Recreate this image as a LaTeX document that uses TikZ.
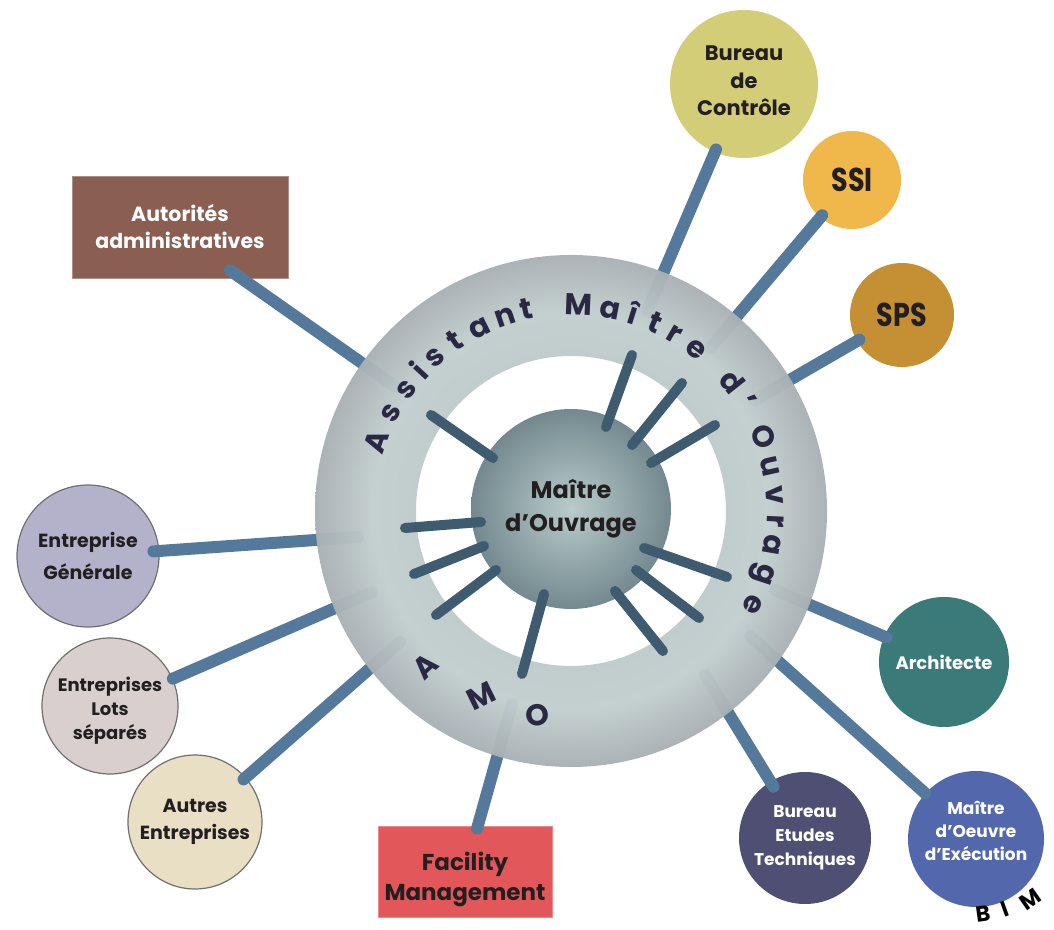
\documentclass[tikz,border=0pt]{standalone}
\usepackage{fontspec}
\setmainfont{Poppins}
\usetikzlibrary{calc}
\definecolor{connblue}{HTML}{54799A}
\definecolor{spokeblue}{HTML}{3F5B70}
\definecolor{textdark}{HTML}{231F20}
\definecolor{ringtext}{HTML}{2A2943}
\definecolor{ringA}{HTML}{BFCACA}
\definecolor{ringB}{HTML}{C2CDCD}
\definecolor{ringC}{HTML}{A8B1B4}
\definecolor{sphL}{HTML}{B9CCCB}
\definecolor{sphD}{HTML}{74898F}
\definecolor{bcfill}{HTML}{D3CD77}
\definecolor{ssifill}{HTML}{F0B74A}
\definecolor{spsfill}{HTML}{C59034}
\definecolor{autfill}{HTML}{8B5E52}
\definecolor{egfill}{HTML}{B3B2CA}
\definecolor{elsfill}{HTML}{D9CFCF}
\definecolor{aefill}{HTML}{E9DFC5}
\definecolor{fmfill}{HTML}{E2575A}
\definecolor{betfill}{HTML}{4E4F72}
\definecolor{moefill}{HTML}{5367AD}
\definecolor{archfill}{HTML}{3A7A78}
\definecolor{bordergray}{HTML}{707070}
\pgfdeclareradialshading{ringshade}{\pgfpoint{0bp}{0bp}}{color(0bp)=(ringA); color(15bp)=(ringA); color(19.5bp)=(ringB); color(25bp)=(ringC); color(50bp)=(ringC)}
\newcommand\mylines[2]{\raisebox{#1}[\height][\depth]{\begin{tabular}{@{}c@{}}#2\end{tabular}}}
\begin{document}
\begin{tikzpicture}[x=1pt,y=1pt,
  bubble/.style={circle, inner sep=0pt, align=center},
  boxnode/.style={rectangle, inner sep=0pt, align=center},
  conn/.style={line width=12pt, line cap=round, draw=connblue},
  spoke/.style={line width=10pt, line cap=round, draw=spokeblue},
  ringletter/.style={text=ringtext, font=\bfseries\fontsize{30}{30}\selectfont, inner sep=-2pt},
  biml/.style={text=black, font=\bfseries\fontsize{22}{22}\selectfont, inner sep=0pt}]
\useasboundingbox (0,0) rectangle (1054,929);
\coordinate (C) at (571,418);

% outer nodes
\node[bubble, fill=bcfill, minimum size=148pt, text=textdark, font=\bfseries\fontsize{21}{27.5}\selectfont] (BC) at (744,845) {\mylines{1pt}{Bureau\\de\\Contrôle}};
\node[bubble, fill=ssifill, minimum size=98pt, text=textdark, font=\bfseries\fontsize{33}{33}\selectfont] (SSI) at (852,749) {\scalebox{0.82}[1]{SSI}};
\node[bubble, fill=spsfill, minimum size=104pt, text=textdark, font=\bfseries\fontsize{33}{33}\selectfont] (SPS) at (902,614) {\scalebox{0.82}[1]{SPS}};
\node[boxnode, fill=autfill, draw=autfill!70!white, line width=0.8pt, minimum width=216pt, minimum height=102pt, text=white, font=\bfseries\fontsize{20.5}{27}\selectfont] (AUT) at (180,702) {Autorités\\administratives};
\node[bubble, fill=egfill, draw=bordergray, line width=1.2pt, minimum size=142pt, text=textdark, font=\bfseries\fontsize{19}{32}\selectfont] (EG) at (88,373) {Entreprise\\Générale};
\node[bubble, fill=elsfill, draw=bordergray, line width=1.2pt, minimum size=136pt, text=textdark, font=\bfseries\fontsize{18}{24}\selectfont] (ELS) at (110,223) {\mylines{-5pt}{Entreprises\\Lots\\séparés}};
\node[bubble, fill=aefill, draw=bordergray, line width=1.2pt, minimum size=134pt, text=textdark, font=\bfseries\fontsize{19}{27}\selectfont] (AE) at (195,107) {Autres\\Entreprises};
\node[boxnode, fill=fmfill, draw=fmfill!70!white, line width=0.8pt, minimum width=174pt, minimum height=91pt, text=textdark, font=\bfseries\fontsize{23}{30}\selectfont] (FM) at (465,57.5) {\mylines{-8pt}{Facility\\Management}};
\node[bubble, fill=betfill, minimum size=132pt, text=white, font=\bfseries\fontsize{17}{24}\selectfont] (BET) at (805,91) {Bureau\\Etudes\\Techniques};
\node[bubble, fill=moefill, minimum size=136pt, text=white, font=\bfseries\fontsize{17}{23}\selectfont] (MOE) at (976,90) {\mylines{6pt}{Maître\\d’Oeuvre\\d’Exécution}};
\node[bubble, fill=archfill, minimum size=130pt, text=white, font=\bfseries\fontsize{18}{24}\selectfont] (ARCH) at (944,267) {Architecte};

% inner ends of connectors (hidden under the ring)
\coordinate (bcR) at (647,618);
\coordinate (ssiR) at (710,581);
\coordinate (spsR) at (755,529);
\coordinate (autR) at (396,542);
\coordinate (egR) at (358,392);
\coordinate (elsR) at (372,337);
\coordinate (aeR) at (400,287);
\coordinate (fmR) at (512,225);
\coordinate (betR) at (705,254);
\coordinate (moeR) at (750,293);
\coordinate (archR) at (775,339);

\draw[conn, shorten <=-3pt] (BC) -- (bcR);
\draw[conn, shorten <=-3pt] (SSI) -- (ssiR);
\draw[conn, shorten <=-3pt] (SPS) -- (spsR);
\draw[conn] ($(AUT.south)+(50,8)$) -- (autR);
\draw[conn, shorten <=-6pt] (EG) -- (egR);
\draw[conn] (ELS) -- (elsR);
\draw[conn, shorten <=-3pt] (AE) -- (aeR);
\draw[conn, shorten <=-3pt] (FM) -- (fmR);
\draw[conn, shorten <=-6pt] (BET) -- (betR);
\draw[conn] (MOE) -- (moeR);
\draw[conn, shorten <=-3pt] (ARCH) -- (archR);

% ring
\shade[shading=ringshade, even odd rule, fill opacity=0.97] (C) circle (256) (C) circle (155);

% central sphere
\node[circle, minimum size=200pt, inner sep=0pt, inner color=sphL, outer color=sphD, align=center, text=textdark, font=\bfseries\fontsize{24}{33}\selectfont] (S) at (571,420) {Maître\\d’Ouvrage};

% spokes
\draw[spoke] (431,514) -- (493,471);
\draw[spoke] (632,574) -- (606,502);
\draw[spoke] (682,546) -- (632,484);
\draw[spoke] (715,504) -- (651,466);
\draw[spoke] (405,401) -- (481,407);
\draw[spoke] (414,355) -- (484,383);
\draw[spoke] (436,314) -- (496,359);
\draw[spoke] (522,255) -- (544,335);
\draw[spoke] (615,338) -- (663,278);
\draw[spoke] (636,359) -- (699,311);
\draw[spoke] (644,381) -- (727,352);

% ring text
\foreach \ch/\ang in {A/160.3, s/151.5, s/143.5, i/137.2, s/131.5, t/124.3, a/116.5, n/108.6, t/102.4, M/87.8, a/79.1, î/72.5, t/65.8, r/59.7, e/52.4, d/38.6, ’/31.8, O/21.1, u/12.7, v/4.4, r/-2.8, a/-9.6, g/-18.3, e/-27.2}
  \node[ringletter, anchor=base, rotate=\ang-90] at ($(C)+(\ang:196)$) {\ch};
\node[ringletter, rotate=43] (amoA) at ($(C)+(226.8:213)$) {A};
\node[ringletter, rotate=26] (amoM) at ($(C)+(244.1:206)$) {M};
\node[ringletter, rotate=9] (amoO) at ($(C)+(260.7:207)$) {O};

% BIM
\node[biml, rotate=8] (bimB) at (983,15) {B};
\node[biml, rotate=20] (bimI) at (1005,20) {I};
\node[biml, rotate=35] (bimM) at (1030,30) {M};
\end{tikzpicture}
\end{document}
